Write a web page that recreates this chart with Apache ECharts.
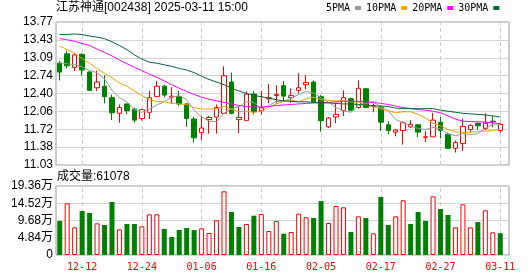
<!DOCTYPE html>
<html>
<head>
<meta charset="utf-8">
<script src="https://cdn.jsdelivr.net/npm/echarts@6/dist/echarts.min.js"></script>
<style>
  html, body { margin: 0; padding: 0; background: #fff; }
  #kline { width: 530px; height: 276px; }
</style>
</head>
<body>
<div id="kline"></div>
<script>
// 交易日
const dates = ['12-09','12-10','12-11','12-12','12-13','12-16','12-17','12-18','12-19','12-20',
  '12-23','12-24','12-25','12-26','12-27','12-30','12-31','01-02','01-03','01-06',
  '01-07','01-08','01-09','01-10','01-13','01-14','01-15','01-16','01-17','01-20',
  '01-21','01-22','01-23','01-24','01-27','02-05','02-06','02-07','02-10','02-11',
  '02-12','02-13','02-14','02-17','02-18','02-19','02-20','02-21','02-24','02-25',
  '02-26','02-27','02-28','03-03','03-04','03-05','03-06','03-07','03-10','03-11']

const opens = [12.98,13.16,12.90,13.15,12.81,12.51,12.54,12.32,12.02,12.20,
  12.10,11.92,12.04,12.34,12.54,12.33,12.34,12.20,11.91,11.65,
  11.90,11.95,12.02,12.62,11.90,11.88,12.39,12.07,12.30,12.36,
  12.55,12.32,12.46,12.57,12.62,12.34,11.76,11.95,12.07,12.30,
  12.13,12.49,12.16,12.13,11.80,11.66,11.69,11.76,11.80,11.56,
  11.57,11.85,11.62,11.35,11.44,11.71,11.83,11.73,11.87,11.69]
const closes = [12.81,12.93,13.14,12.85,12.46,12.62,12.34,12.03,12.13,12.07,
  11.89,12.09,12.32,12.54,12.37,12.35,12.20,11.92,11.55,11.74,
  11.94,12.13,12.74,12.02,11.94,12.39,12.05,12.13,12.32,12.38,
  12.35,12.36,12.51,12.61,12.24,11.88,11.93,12.00,12.32,12.08,
  12.50,12.13,12.17,11.85,11.69,11.70,11.84,11.81,11.66,11.57,
  11.89,11.69,11.35,11.46,11.77,11.79,11.78,11.83,11.86,11.81]
const lows = [12.65,12.88,12.83,12.74,12.45,12.45,12.21,11.89,11.84,12.00,
  11.84,11.88,11.91,12.33,12.33,12.21,12.16,11.76,11.46,11.51,
  11.63,11.63,12.02,12.00,11.64,11.88,12.00,12.00,12.21,12.21,
  12.24,12.22,12.40,12.48,12.23,11.67,11.74,11.83,11.97,12.07,
  12.11,12.12,12.04,11.68,11.62,11.58,11.42,11.74,11.56,11.47,
  11.57,11.54,11.34,11.27,11.30,11.65,11.70,11.70,11.75,11.65]
const highs = [13.02,13.22,13.17,13.17,12.83,12.84,12.75,12.38,12.19,12.21,
  12.13,12.11,12.45,12.64,12.57,12.52,12.45,12.22,11.95,11.97,
  11.97,12.19,12.92,12.80,12.15,12.44,12.45,12.45,12.58,12.56,
  12.64,12.50,12.79,12.75,12.65,12.37,11.95,12.21,12.46,12.32,
  12.65,12.50,12.21,12.17,11.87,11.72,11.87,11.89,11.81,11.68,
  12.03,11.95,11.65,11.50,11.92,11.81,11.84,12.02,11.97,11.83]
const prevClose = 12.95

const ma5 = [12.99,12.97,12.95,12.91,12.84,12.80,12.68,12.46,12.32,12.24,
  12.09,12.04,12.10,12.18,12.24,12.33,12.36,12.28,12.08,11.95,
  11.87,11.86,12.02,12.11,12.15,12.24,12.23,12.11,12.17,12.25,
  12.25,12.31,12.38,12.44,12.41,12.32,12.23,12.13,12.07,12.04,
  12.17,12.21,12.24,12.14,12.07,11.90,11.84,11.77,11.73,11.71,
  11.75,11.72,11.63,11.59,11.63,11.61,11.63,11.73,11.81,11.81]
const ma10 = [13.31,13.24,13.17,13.07,12.98,12.88,12.79,12.70,12.60,12.54,
  12.45,12.36,12.28,12.25,12.24,12.21,12.20,12.19,12.13,12.10,
  12.10,12.11,12.15,12.10,12.05,12.06,12.04,12.06,12.14,12.20,
  12.25,12.27,12.24,12.30,12.33,12.28,12.27,12.26,12.26,12.24,
  12.24,12.18,12.15,12.11,12.07,12.03,12.05,12.05,12.00,11.93,
  11.83,11.78,11.71,11.67,11.65,11.66,11.67,11.68,11.69,11.72]
const ma20 = [13.45,13.43,13.40,13.36,13.32,13.25,13.19,13.12,13.04,12.97,
  12.90,12.84,12.77,12.71,12.64,12.57,12.50,12.44,12.38,12.33,
  12.29,12.26,12.23,12.20,12.17,12.15,12.14,12.14,12.15,12.17,
  12.18,12.19,12.20,12.21,12.22,12.22,12.23,12.24,12.25,12.25,
  12.25,12.24,12.23,12.21,12.19,12.16,12.13,12.11,12.09,12.08,
  12.06,12.03,11.97,11.91,11.87,11.86,11.86,11.85,11.84,11.82]
const ma30 = [13.53,13.53,13.54,13.53,13.50,13.48,13.45,13.39,13.32,13.24,
  13.14,13.06,13.00,12.98,12.95,12.92,12.88,12.85,12.80,12.73,
  12.67,12.62,12.57,12.50,12.45,12.40,12.36,12.34,12.31,12.28,
  12.26,12.25,12.24,12.24,12.23,12.22,12.22,12.21,12.20,12.20,
  12.19,12.18,12.16,12.16,12.15,12.12,12.11,12.11,12.11,12.11,
  12.11,12.08,12.06,12.04,12.02,12.01,12.00,11.99,11.97,11.95]

// 成交量(手)
const volumes = [95400,145000,77700,123500,117900,88900,84200,148700,72000,87000,
  87000,80400,114100,114100,73000,50500,70200,75800,70200,74800,
  61700,97300,178700,120700,78600,87000,110300,115000,67300,95400,
  59800,64500,115900,105800,103800,151500,89800,137500,133800,64500,
  108500,103800,60800,162700,84200,108500,153400,87000,120700,95400,
  164600,129100,112200,77600,142200,77600,92600,125400,63600,61078]

const priceTicks = ['11.03','11.38','11.72','12.06','12.40','12.74','13.09','13.43','13.77']
const volTicks = ['0','4.84万','9.68万','14.52万','19.36万']
const labelDates = ['12-12','12-24','01-06','01-16','02-05','02-17','02-27','03-11']
const priceMin = 11.03
const priceMax = 13.77
const volMax = 193600

const RED = '#ff0000'
const GREEN = '#008000'
const FONT = "'Liberation Sans', 'Noto Sans CJK SC', sans-serif"
const MONO = "'DejaVu Sans Mono', monospace"

const chart = echarts.init(document.getElementById('kline'))

const candles = dates.map((d, i) => [opens[i], closes[i], lows[i], highs[i]])
const volData = volumes.map((v, i) => {
  const last = i === 0 ? prevClose : closes[i - 1]
  const up = closes[i] >= last
  return {
    value: v,
    itemStyle: up ? { color: '#fff', borderColor: RED, borderWidth: 1 } : { color: GREEN }
  }
})

const dashLines = {
  silent: true,
  symbol: 'none',
  z: 1,
  animation: false,
  label: { show: false },
  lineStyle: { color: '#cccccc', type: [4, 3], width: 1 },
  data: labelDates.map(d => ({ xAxis: d }))
}

const maLine = (name, data, color) => ({
  name: name,
  type: 'line',
  xAxisIndex: 0,
  yAxisIndex: 0,
  data: data,
  color: color,
  showSymbol: false,
  symbol: 'none',
  lineStyle: { width: 1, color: color },
  z: 3
})

const option = {
  animation: false,
  title: [
    {
      text: '江苏神通[002438] 2025-03-11 15:00',
      left: 56, top: 2, padding: 0,
      textStyle: { fontSize: 12, fontWeight: 'normal', fontFamily: FONT, color: '#000' }
    },
    {
      text: '成交量:' + volumes[volumes.length - 1],
      left: 57, top: 171, padding: 0,
      textStyle: { fontSize: 12, fontWeight: 'normal', fontFamily: FONT, color: '#000' }
    }
  ],
  legend: {
    data: ['5PMA', '10PMA', '20PMA', '30PMA'],
    left: 326, top: 3, padding: 0,
    align: 'right',
    icon: 'rect',
    itemWidth: 6, itemHeight: 4, itemGap: 5,
    textStyle: { fontFamily: MONO, fontSize: 10, color: '#000' }
  },
  grid: [
    { left: 56, top: 22, width: 448, height: 143 },
    { left: 56, top: 186, width: 448, height: 69 },
    { left: 56, top: 22, width: 453, height: 143, show: true, borderColor: '#999', borderWidth: 1 },
    { left: 56, top: 186, width: 453, height: 69, show: true, borderColor: '#999', borderWidth: 1 }
  ],
  xAxis: [
    { type: 'category', gridIndex: 0, data: dates, boundaryGap: true, show: false },
    {
      type: 'category', gridIndex: 1, data: dates, boundaryGap: true,
      axisLine: { show: false }, axisTick: { show: false }, splitLine: { show: false },
      axisLabel: {
        interval: (i, v) => labelDates.includes(v),
        color: RED, fontFamily: MONO, fontSize: 10, margin: 7
      }
    },
    { type: 'value', gridIndex: 2, min: 0, max: 1, show: false },
    { type: 'value', gridIndex: 3, min: 0, max: 1, show: false }
  ],
  yAxis: [
    { type: 'value', gridIndex: 0, min: priceMin, max: priceMax, show: false },
    { type: 'value', gridIndex: 1, min: 0, max: volMax, show: false },
    {
      type: 'value', gridIndex: 2, min: 0, max: 8, interval: 1,
      axisLine: { show: false }, axisTick: { show: false },
      splitLine: { lineStyle: { color: '#d4d4d4', width: 1 } },
      axisLabel: { formatter: v => priceTicks[v], color: '#000', fontFamily: FONT, fontSize: 12, margin: 3 }
    },
    {
      type: 'value', gridIndex: 3, min: 0, max: 4, interval: 1,
      axisLine: { show: false }, axisTick: { show: false },
      splitLine: { lineStyle: { color: '#d4d4d4', width: 1 } },
      axisLabel: { formatter: v => volTicks[v], color: '#000', fontFamily: FONT, fontSize: 12, margin: 3 }
    }
  ],
  series: [
    {
      name: 'K',
      type: 'candlestick',
      xAxisIndex: 0,
      yAxisIndex: 0,
      data: candles,
      barWidth: 5,
      itemStyle: { color: '#fff', color0: GREEN, borderColor: RED, borderColor0: GREEN, borderWidth: 1 },
      markLine: dashLines
    },
    maLine('5PMA', ma5, '#999999'),
    maLine('10PMA', ma10, '#f0a000'),
    maLine('20PMA', ma20, '#ff00ff'),
    maLine('30PMA', ma30, '#006633'),
    {
      name: '成交量',
      type: 'bar',
      xAxisIndex: 1,
      yAxisIndex: 1,
      data: volData,
      barWidth: 5,
      markLine: dashLines
    }
  ]
}

chart.setOption(option)
</script>
</body>
</html>
